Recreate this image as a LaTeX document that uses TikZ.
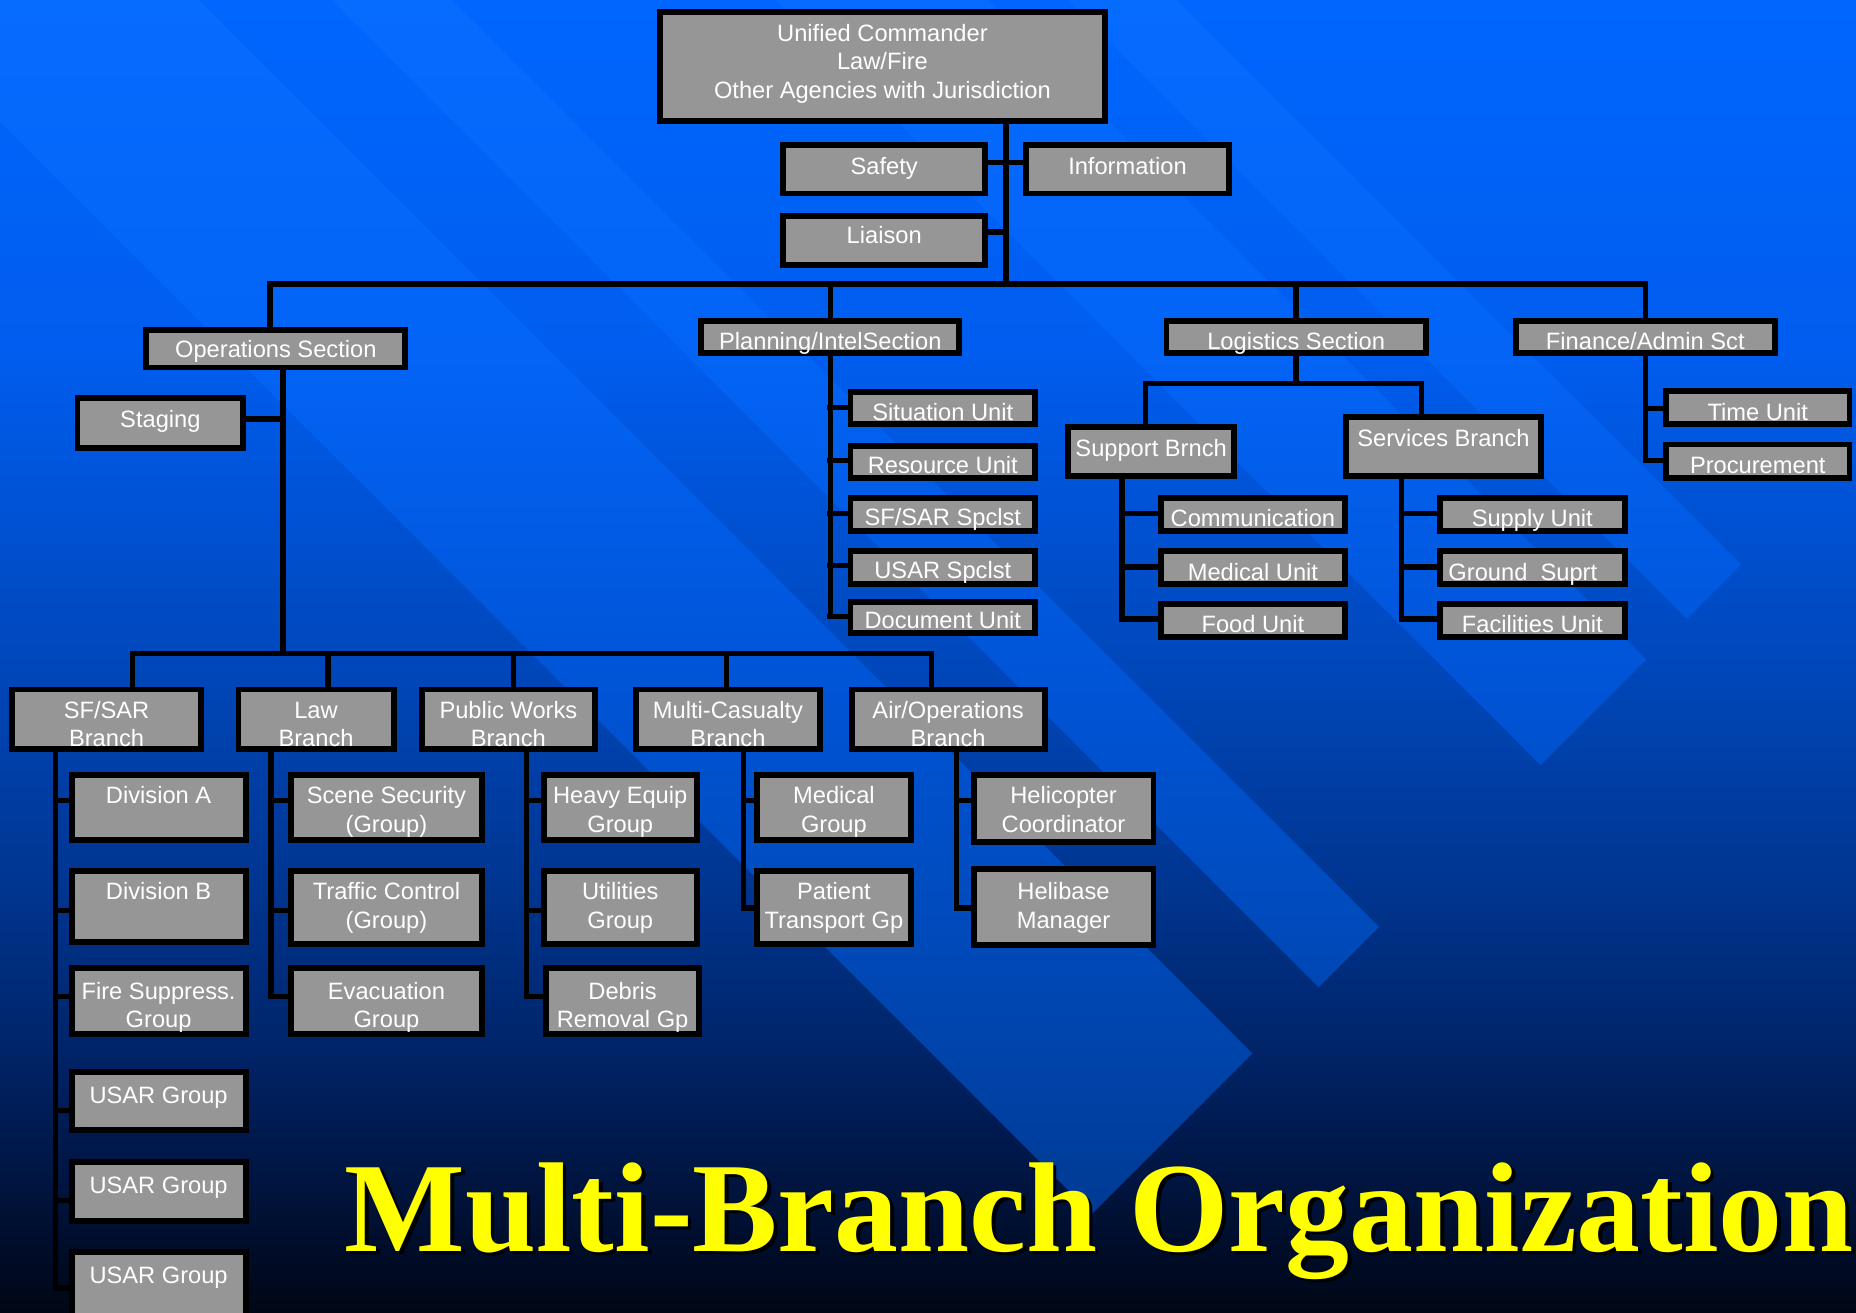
\documentclass[tikz,border=0pt]{standalone}
\usepackage{fontspec}
\setmainfont{Liberation Sans}
\newfontfamily\titlefont{Liberation Serif}
\usetikzlibrary{calc}
\pgfdeclarelayer{back}
\pgfdeclarelayer{wires}
\pgfsetlayers{back,wires,main}
\definecolor{boxgray}{HTML}{969696}
\definecolor{bgA}{HTML}{000614}
\definecolor{bgB}{HTML}{001A50}
\definecolor{bgC}{HTML}{00256A}
\definecolor{bgD}{HTML}{003590}
\definecolor{bgE}{HTML}{0046B8}
\definecolor{bgF}{HTML}{005DEE}
\definecolor{bgG}{HTML}{0066FF}
\definecolor{bdA}{HTML}{003080}
\definecolor{bdB}{HTML}{003C98}
\definecolor{bdC}{HTML}{0044AC}
\definecolor{bdD}{HTML}{004CC0}
\definecolor{bdE}{HTML}{0054D6}
\definecolor{bdF}{HTML}{0364F6}
\definecolor{bdG}{HTML}{066BFF}
\definecolor{ttlyellow}{HTML}{FFFF00}
\pgfdeclareverticalshading{bgshade}{100bp}{color(0bp)=(bgA); color(25bp)=(bgA); color(31.9bp)=(bgB); color(35.3bp)=(bgC); color(41.2bp)=(bgD); color(49.1bp)=(bgE); color(61.5bp)=(bgF); color(75bp)=(bgG); color(100bp)=(bgG)}
\pgfdeclareverticalshading{bandshade}{100bp}{color(0bp)=(bdA); color(25bp)=(bdA); color(29.9bp)=(bdB); color(35.3bp)=(bdC); color(41.2bp)=(bdD); color(49.1bp)=(bdE); color(61.5bp)=(bdF); color(75bp)=(bdG); color(100bp)=(bdG)}
% #2 name, #3..#6 outer box x1 y1 x2 y2, #7 y of the middle of the first text line, #8 text
\newcommand\orgbox[8][]{%
  \pgfmathsetmacro\tbo{#7+7-(#4+#6)/2}%
  \pgfmathsetmacro\tbk{abs(\tbo)+0.5}%
  \pgfmathsetmacro\tbh{\tbk+\tbo}%
  \pgfmathsetmacro\tbd{\tbk-\tbo}%
  \node[box,text height=\tbh pt,text depth=\tbd pt,#1,
        minimum width={(#5-#3-5)*1pt},minimum height={(#6-#4-5)*1pt}]
        (#2) at ({(#3+#5)/2},{(#4+#6)/2})
        {\begin{tabular}[t]{@{}c@{}}#8\end{tabular}};}
\newcommand\hconn[3]{\draw[ln] (#1 |- 0,#3) -- (#2,#3);}
\begin{document}
\begin{tikzpicture}[x=1pt,y=-1pt,
  box/.style={draw=black,line width=5pt,fill=boxgray,text=white,font=\fontsize{20}{24}\selectfont,inner sep=0pt,outer sep=0pt},
  ln/.style={draw=black,line width=4.5pt,line cap=rect},
  ttl/.style={font=\titlefont\bfseries\fontsize{108}{120}\selectfont,inner sep=0pt,anchor=base west}]
\useasboundingbox (0,0) rectangle (1568,1109);
\clip (0,0) rectangle (1568,1109);

\begin{pgfonlayer}{back}
\shade[shading=bgshade] (0,0) rectangle (1568,1109);
\foreach \da/\db in {-994/-902,-834/-655,-382/-280,-168/103}{
  \begin{scope}
  \clip ({(1948-(\da))/2},{(1948+(\da))/2}) -- ({(1948-(\db))/2},{(1948+(\db))/2})
     -- ({(-500-(\db))/2},{(-500+(\db))/2}) -- ({(-500-(\da))/2},{(-500+(\da))/2}) -- cycle;
  \shade[shading=bandshade] (0,0) rectangle (1568,1109);
  \end{scope}}
\end{pgfonlayer}

% ---- top ----
\orgbox{uc}{555}{8}{936}{105}{28}{Unified Commander\\Law/Fire\\Other Agencies with Jurisdiction}
\orgbox{safety}{659}{120}{835}{166}{140}{Safety}
\orgbox{info}{864}{120}{1041}{166}{140}{Information}
\orgbox{liaison}{659}{180}{835}{226}{199}{Liaison}
% ---- sections ----
\orgbox{ops}{121}{276}{345}{313}{295}{Operations Section}
\orgbox{plan}{590}{269}{813}{301}{288}{Planning/IntelSection}
\orgbox{log}{983}{269}{1207}{301}{288}{Logistics Section}
\orgbox{fin}{1278}{269}{1502}{301}{288}{Finance/Admin Sct}
\orgbox{stg}{63}{334}{208}{381}{354}{Staging}
% ---- planning units ----
\orgbox{sit}{716}{329}{877}{361}{348}{Situation Unit}
\orgbox{res}{716}{374}{877}{406}{393}{Resource Unit}
\orgbox{sfs}{716}{418}{877}{451}{437}{SF/SAR Spclst}
\orgbox{usp}{716}{463}{877}{496}{482}{USAR Spclst}
\orgbox{doc}{716}{506}{877}{537}{524}{Document Unit}
% ---- logistics ----
\orgbox{sup}{900}{358}{1045}{405}{379}{Support Brnch}
\orgbox{svc}{1135}{350}{1304}{405}{370}{Services Branch}
\orgbox{com}{978}{418}{1139}{451}{438}{Communication}
\orgbox{med}{978}{463}{1139}{496}{483}{Medical Unit}
\orgbox{food}{978}{508}{1139}{541}{527}{Food Unit}
\orgbox{supply}{1214}{418}{1375}{451}{438}{Supply Unit}
\orgbox{gs}{1214}{463}{1375}{496}{483}{Ground\ \ Suprt\hspace*{16pt}}
\orgbox{fac}{1214}{508}{1375}{541}{527}{Facilities Unit}
% ---- finance ----
\orgbox{time}{1405}{328}{1565}{361}{348}{Time Unit}
\orgbox{proc}{1405}{373}{1565}{406}{393}{Procurement}
% ---- operations branches ----
\orgbox{sfsar}{8}{580}{172}{635}{600}{SF/SAR\\Branch}
\orgbox{law}{199}{580}{335}{635}{600}{Law\\Branch}
\orgbox{pw}{354}{580}{505}{635}{600}{Public Works\\Branch}
\orgbox{mc}{535}{580}{695}{635}{600}{Multi-Casualty\\Branch}
\orgbox{air}{717}{580}{885}{635}{600}{Air/Operations\\Branch}
% SF/SAR
\orgbox{da}{58}{652}{210}{712}{672}{Division A}
\orgbox{db}{58}{733}{210}{798}{753}{Division B}
\orgbox{fs}{58}{815}{210}{876}{837}{Fire Suppress.\\Group}
\orgbox{ua}{58}{903}{210}{957}{925}{USAR Group}
\orgbox{ub}{58}{979}{210}{1034}{1001}{USAR Group}
\orgbox{uc3}{58}{1055}{210}{1122}{1077}{USAR Group}
% Law
\orgbox{ss}{243}{652}{410}{712}{672}{Scene Security\\(Group)}
\orgbox{tc}{243}{733}{410}{800}{753}{Traffic Control\\(Group)}
\orgbox{ev}{243}{815}{410}{876}{837}{Evacuation\\Group}
% Public works
\orgbox{he}{457}{652}{591}{712}{672}{Heavy Equip\\Group}
\orgbox{ut}{457}{733}{591}{800}{753}{Utilities\\Group}
\orgbox{dr}{459}{815}{593}{876}{837}{Debris\\Removal Gp}
% Multi-casualty
\orgbox{mg}{637}{652}{772}{712}{672}{Medical\\Group}
\orgbox{pt}{637}{733}{772}{800}{753}{Patient\\Transport Gp}
% Air ops
\orgbox{hc}{820}{652}{977}{714}{672}{Helicopter\\Coordinator}
\orgbox{hm}{820}{732}{977}{801}{753}{Helibase\\Manager}

% ---- title ----
\node[ttl,text=black] (titleshadow) at (294,1060) {Multi-Branch Organization};
\node[ttl,text=ttlyellow] (title) at (291,1057) {Multi-Branch Organization};

% ---- connectors ----
\begin{pgfonlayer}{wires}
\coordinate (hub) at (850,240);
\coordinate (busL) at (228,240);
\coordinate (busR) at (1390,240);
\draw[ln] (uc.south -| hub) -- (hub);
\draw[ln] (busL) -- (busR);
\draw[ln] (busL) -- (busL |- ops.north);
\draw[ln] (plan.north) -- (plan.north |- hub);
\draw[ln] (log.north) -- (log.north |- hub);
\draw[ln] (fin.north) -- (fin.north |- hub);
\hconn{safety.east}{850}{137}
\hconn{info.west}{850}{137}
\hconn{liaison.east}{850}{196}
% operations
\coordinate (ot) at (239,552);
\draw[ln] (ops.south -| ot) -- (ot);
\hconn{stg.east}{239}{354}
\coordinate (bbL) at (112,552);
\coordinate (bbR) at (787,552);
\draw[ln] (bbL) -- (bbR);
\coordinate (d1) at (112,552);
\coordinate (d2) at (277,552);
\coordinate (d3) at (434,552);
\coordinate (d4) at (614,552);
\coordinate (d5) at (787,552);
\draw[ln] (d1) -- (d1 |- sfsar.north);
\draw[ln] (d2) -- (d2 |- law.north);
\draw[ln] (d3) -- (d3 |- pw.north);
\draw[ln] (d4) -- (d4 |- mc.north);
\draw[ln] (d5) -- (d5 |- air.north);
% SF/SAR trunk
\draw[ln] (sfsar.south -| 47,0) -- (47,1088);
\hconn{da.west}{47}{676}
\hconn{db.west}{47}{769}
\hconn{fs.west}{47}{842}
\hconn{ua.west}{47}{938}
\hconn{ub.west}{47}{1014}
\hconn{uc3.west}{47}{1088}
% Law trunk
\draw[ln] (law.south -| 229,0) -- (229,842);
\hconn{ss.west}{229}{676}
\hconn{tc.west}{229}{769}
\hconn{ev.west}{229}{842}
% PW trunk
\draw[ln] (pw.south -| 445,0) -- (445,842);
\hconn{he.west}{445}{676}
\hconn{ut.west}{445}{769}
\hconn{dr.west}{445}{842}
% MC trunk
\draw[ln] (mc.south -| 628,0) -- (628,767);
\hconn{mg.west}{628}{676}
\hconn{pt.west}{628}{767}
% Air trunk
\draw[ln] (air.south -| 808,0) -- (808,767);
\hconn{hc.west}{808}{676}
\hconn{hm.west}{808}{767}
% planning trunk
\draw[ln] (plan.south) -- (plan.south |- 0,521);
\hconn{sit.west}{701}{344}
\hconn{res.west}{701}{389}
\hconn{sfs.west}{701}{434}
\hconn{usp.west}{701}{478}
\hconn{doc.west}{701}{521}
% logistics
\coordinate (lb) at (1095,324);
\draw[ln] (log.south) -- (lb);
\coordinate (lbL) at (968,324);
\coordinate (lbR) at (1201,324);
\draw[ln] (lbL) -- (lbR);
\draw[ln] (lbL) -- (lbL |- sup.north);
\draw[ln] (lbR) -- (lbR |- svc.north);
\draw[ln] (sup.south -| 948,0) -- (948,523);
\hconn{com.west}{948}{434}
\hconn{med.west}{948}{479}
\hconn{food.west}{948}{523}
\draw[ln] (svc.south -| 1184,0) -- (1184,523);
\hconn{supply.west}{1184}{434}
\hconn{gs.west}{1184}{479}
\hconn{fac.west}{1184}{523}
% finance
\draw[ln] (fin.south) -- (fin.south |- 0,389);
\hconn{time.west}{1390}{345}
\hconn{proc.west}{1390}{389}
\end{pgfonlayer}
\end{tikzpicture}
\end{document}
